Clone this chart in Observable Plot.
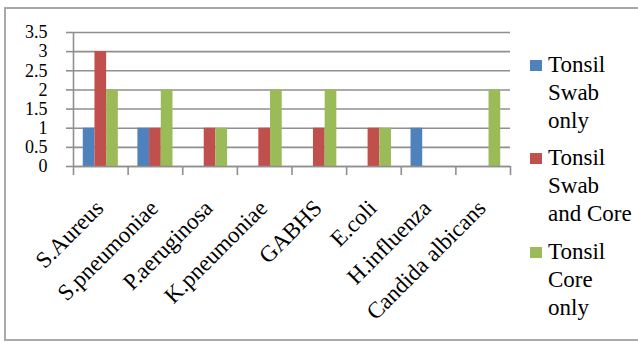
<!DOCTYPE html>
<html>
<head>
<meta charset="utf-8">
<script src="https://cdn.jsdelivr.net/npm/d3@7"></script>
<script src="https://cdn.jsdelivr.net/npm/@observablehq/plot@0.6"></script>
<style>
  html, body { margin: 0; padding: 0; background: #fff; }
  #wrap { position: relative; width: 638px; height: 342px; overflow: hidden;
          font-family: "Liberation Serif", "Times New Roman", serif; }
  #border { position: absolute; left: 4px; top: 7px; width: 660px; height: 334px;
            border: 2px solid #a9a9a9; box-sizing: border-box; }
  #wrap svg { position: absolute; left: 0; top: 0; }
  #legend { position: absolute; left: 530px; top: 50.5px; }
  .item { position: relative; padding-left: 18px; width: 88px; margin-bottom: 9.5px;
          font-size: 23px; line-height: 28px; color: #000; }
  .swatch { position: absolute; left: 0; top: 9px; width: 12px; height: 11px; }
</style>
</head>
<body>
<div id="wrap"><div id="border"></div></div>
<script>
// Organisms isolated, counted per sampling method
const categories = ["S.Aureus", "S.pneumoniae", "P.aeruginosa", "K.pneumoniae",
                    "GABHS", "E.coli", "H.influenza", "Candida albicans"];
const seriesNames = ["Tonsil Swab only", "Tonsil Swab and Core", "Tonsil Core only"];
const swabOnly    = [1, 1, 0, 0, 0, 0, 1, 0];
const swabAndCore = [3, 1, 1, 1, 1, 1, 0, 0];
const coreOnly    = [2, 2, 1, 2, 2, 1, 0, 2];
const yTicks = [0, 0.5, 1, 1.5, 2, 2.5, 3, 3.5];
const colors = ["#4F81BD", "#C0504D", "#9BBB59"];

const seriesValues = [swabOnly, swabAndCore, coreOnly];
const rows = seriesValues.flatMap((vals, s) =>
  vals.map((v, c) => ({category: categories[c], series: seriesNames[s], c, s, value: v})));

// each category occupies one unit on x; bars sit side by side around its centre
const barW = 0.214;
const left = d => d.c + 0.5 + (d.s - 1.5) * barW;
const gray = "#8f8f8f";
const serif = "'Liberation Serif', 'Times New Roman', serif";

const chart = Plot.plot({
  width: 638,
  height: 342,
  marginLeft: 73,
  marginRight: 128,
  marginTop: 32,
  marginBottom: 176,
  style: {fontFamily: serif, background: "transparent", color: "#000"},
  x: {domain: [0, categories.length], axis: null, label: null},
  y: {domain: [0, 3.5], axis: null, label: null},
  color: {domain: seriesNames, range: colors},
  marks: [
    Plot.gridY(yTicks, {stroke: gray, strokeOpacity: 1, strokeWidth: 1.6}),
    Plot.axisY(yTicks, {tickSize: 7, tickPadding: 19, fontSize: 18, stroke: gray,
                        strokeWidth: 1.6, fill: "#000", label: null,
                        tickFormat: d => String(d), fontFamily: serif}),
    Plot.rect(rows.filter(d => d.value > 0), {
      x1: left, x2: d => left(d) + barW, y1: 0, y2: "value", fill: "series"
    }),
    Plot.ruleX([0], {stroke: gray, strokeWidth: 1.6}),
    Plot.ruleY([0], {stroke: gray, strokeWidth: 1.6}),
    Plot.axisX(d3.range(0, categories.length + 1), {tickSize: 9, tickFormat: () => "",
                                                    stroke: gray, strokeWidth: 1.6, label: null}),
    Plot.text(categories, {
      x: (d, i) => i + 0.5, frameAnchor: "bottom", rotate: -45, textAnchor: "end",
      lineAnchor: "bottom", dx: 4, dy: 43, fontSize: 23, fill: "#000", fontFamily: serif
    })
  ]
});

const wrap = document.getElementById("wrap");
wrap.appendChild(chart);

// legend to the right of the plot
const legend = document.createElement("div");
legend.id = "legend";
seriesNames.forEach((name, i) => {
  const item = document.createElement("div");
  item.className = "item";
  const sw = document.createElement("span");
  sw.className = "swatch";
  sw.style.background = colors[i];
  item.appendChild(sw);
  item.appendChild(document.createTextNode(name));
  legend.appendChild(item);
});
wrap.appendChild(legend);
</script>
</body>
</html>
